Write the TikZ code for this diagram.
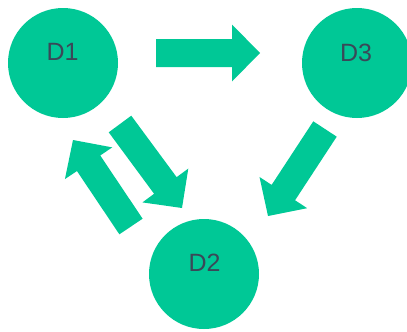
\documentclass[tikz,border=0pt]{standalone}
\usepackage{fontspec}
\setmainfont{Liberation Sans}
\usetikzlibrary{calc}
\definecolor{discgreen}{HTML}{00C896}
\definecolor{labelgray}{HTML}{3A4858}
\tikzset{
  disc/.style={circle, fill=discgreen, minimum size=110pt, inner sep=0pt},
  disclabel/.style={text=labelgray, font=\fontsize{25}{29}\selectfont},
  blockarrow/.style={fill=discgreen, draw=none}
}
% block arrow from tail centre #1 to tip #2
\newcommand{\blockarrowpath}[2]{%
  \fill[blockarrow]
    ($(#1)!14pt!90:(#2)$) --
    ($($(#2)!28pt!(#1)$)!14pt!-90:(#1)$) --
    ($($(#2)!28pt!(#1)$)!28.5pt!-90:(#1)$) --
    (#2) --
    ($($(#2)!28pt!(#1)$)!28.5pt!90:(#1)$) --
    ($($(#2)!28pt!(#1)$)!14pt!90:(#1)$) --
    ($(#1)!14pt!-90:(#2)$) -- cycle;}
\begin{document}
\begin{tikzpicture}[x=1pt, y=-1pt]
  \useasboundingbox (0,0) rectangle (407,332);
  \clip (0,0) rectangle (407,332);
  \node[disc] (d1) at (63,63) {};
  \node[disc] (d3) at (357,63) {};
  \node[disc] (d2) at (204,274) {};
  \node[disclabel] (t1) at (62.5,52) {D1};
  \node[disclabel] (t3) at (356,52.5) {D3};
  \node[disclabel] (t2) at (204.5,263) {D2};
  % arrow tails and tips
  \coordinate (a13) at (156,53);  \coordinate (b13) at (260,53);
  \coordinate (a32) at (325,129); \coordinate (b32) at (268,216);
  \coordinate (a12) at (120,124); \coordinate (b12) at (182,208);
  \coordinate (a21) at (131,226.5); \coordinate (b21) at (73,140);
  \blockarrowpath{a13}{b13}
  \blockarrowpath{a32}{b32}
  \blockarrowpath{a12}{b12}
  \blockarrowpath{a21}{b21}
\end{tikzpicture}
\end{document}
